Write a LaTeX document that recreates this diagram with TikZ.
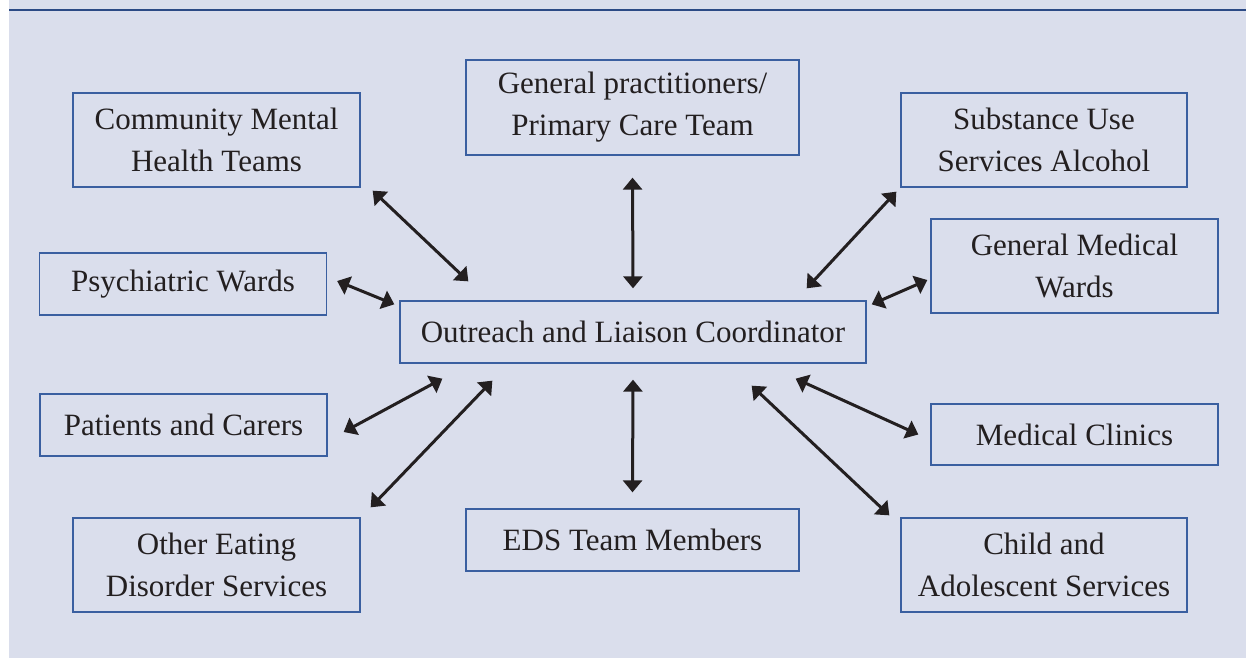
\documentclass[tikz,border=0pt]{standalone}
\usepackage{fontspec}
\setmainfont{Liberation Serif}
\usepackage{xcolor}
\usepackage{tikz}
\usetikzlibrary{arrows.meta}

\definecolor{panelbg}{HTML}{DADEEC}
\definecolor{boxblue}{HTML}{3A5FA0}
\definecolor{rulenavy}{HTML}{2B4A85}
\definecolor{inkgray}{HTML}{231F20}

\tikzset{
  agency/.style={draw=boxblue, line width=1.3pt, align=center, inner sep=0pt,
    text=inkgray, font=\fontsize{31}{42}\selectfont},
  wide/.style={agency, minimum width=287pt, minimum height=94pt},
  flat/.style={agency, minimum width=287pt, minimum height=62pt},
  link/.style={{Triangle[length=12pt,width=19pt]}-{Triangle[length=12pt,width=19pt]}, line width=3pt, inkgray}
}

\begin{document}
\begin{tikzpicture}[x=1pt, y=-1pt]
  % Panel
  \useasboundingbox (0,0) rectangle (1246,658);
  \fill[panelbg] (9,0) rectangle (1246,658);
  \draw[rulenavy, line width=2pt] (9,10) -- (1246,10);

  % Coordinator
  \node[flat, minimum width=466pt] (olc) at (633,332) {Outreach and Liaison Coordinator};

  % Services around it
  \node[wide] (cmht) at (216.5,140) {Community Mental\\Health Teams};
  \node[wide, minimum width=333pt, minimum height=95pt] (gp) at (632.5,107.5) {General practitioners/\\Primary Care Team};
  \node[wide, minimum width=286pt] (sus) at (1044,140) {Substance Use\\Services Alcohol};
  \node[flat] (psy) at (183,284) {Psychiatric Wards};
  \node[wide] (gmw) at (1074.5,266) {General Medical\\Wards};
  \node[flat] (pat) at (183.5,425) {Patients and Carers};
  \node[flat, minimum height=61pt] (mc) at (1074.5,434.5) {Medical Clinics};
  \node[wide] (oed) at (216.5,565) {Other Eating\\Disorder Services};
  \node[flat, minimum width=333pt] (eds) at (632.5,540) {EDS Team Members};
  \node[wide, minimum width=286pt] (cas) at (1044,565) {Child and\\Adolescent Services};

  % Links
  \draw[link] ([shift={(12,3)}]cmht.south east) -- ([shift={(69,-19)}]olc.north west);
  \draw[link] ([shift={(0,22)}]gp.south) -- ([shift={(0,-12)}]olc.north);
  \draw[link] ([shift={(-4,4)}]sus.south west) -- ([shift={(-60,-12)}]olc.north east);
  \draw[link] ([shift={(10,-3)}]psy.east) -- ([shift={(-5,4)}]olc.north west);
  \draw[link] ([shift={(-3,14)}]gmw.west) -- ([shift={(5,4)}]olc.north east);
  \draw[link] ([shift={(16,7)}]pat.east) -- ([shift={(43,15)}]olc.south west);
  \draw[link] ([shift={(10,-10)}]oed.north east) -- ([shift={(93,17)}]olc.south west);
  \draw[link] ([shift={(0,-16)}]eds.north) -- ([shift={(0,16)}]olc.south);
  \draw[link] ([shift={(-12,0)}]mc.west) -- ([shift={(-71,15)}]olc.south east);
  \draw[link] ([shift={(-11,-2)}]cas.north west) -- ([shift={(-115,22)}]olc.south east);
\end{tikzpicture}
\end{document}
